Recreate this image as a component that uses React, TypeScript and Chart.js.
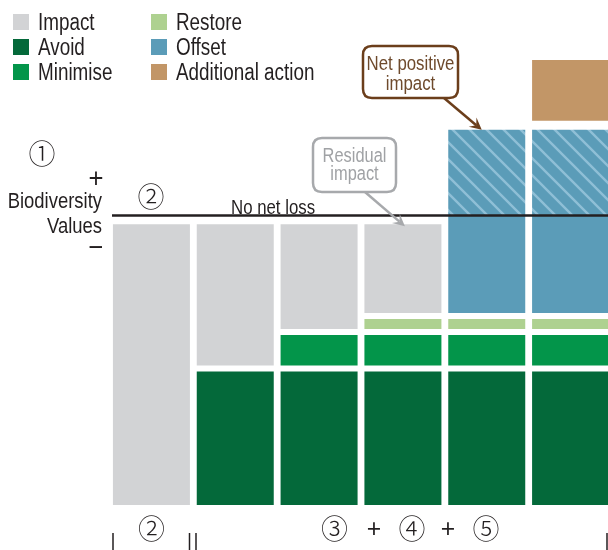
import React, { useEffect, useRef } from "react";
import { Chart, registerables } from "chart.js";

Chart.register(...registerables);

// ---------- data ----------
const categories = ["Impact", "Avoid", "Minimise", "Restore", "Offset", "Additional action"];
const avoidValues = [null, 47.7, 47.7, 47.7, 47.7, 47.7];
const minimiseValues = [null, null, 12.5, 12.5, 12.5, 12.5];
const restoreValues = [null, null, null, 5.4, 5.4, 5.4];
const impactValues = [98, 50.3, 37.8, 32.4, null, null];
const offsetValues = [null, null, null, null, 34.4, 34.4];
const netPositiveValues = [null, null, null, null, 30.3, 30.3];
const additionalValues = [null, null, null, null, null, 23.9];
const noNetLoss = 100;
const yMax = 160;

const legendLabels = ["Impact", "Avoid", "Minimise", "Restore", "Offset", "Additional action"];
const legendColors = ["#D2D3D5", "#04693A", "#03954A", "#AED190", "#5B9CB8", "#C29667"];

// ---------- styles ----------
const FONT = '"Liberation Sans", Arial, sans-serif';
const SYM = '"Noto Sans CJK JP", "DejaVu Sans", sans-serif';
const INK = "#231F20";
const NARROW = 0.82;

function txt(
  ctx: CanvasRenderingContext2D,
  s: string,
  x: number,
  y: number,
  size: number,
  align: CanvasTextAlign,
  color: string,
  baseline: CanvasTextBaseline = "alphabetic",
  sx: number = NARROW,
  weight: string = "normal"
) {
  ctx.save();
  ctx.font = `${weight} ${size}px ${FONT}`;
  ctx.fillStyle = color;
  ctx.textAlign = align;
  ctx.textBaseline = baseline;
  ctx.translate(x, y);
  ctx.scale(sx, 1);
  ctx.fillText(s, 0, 0);
  ctx.restore();
}

function sym(ctx: CanvasRenderingContext2D, s: string, x: number, y: number, size: number) {
  ctx.save();
  ctx.font = `300 ${size}px ${SYM}`;
  ctx.fillStyle = INK;
  ctx.textAlign = "center";
  ctx.textBaseline = "middle";
  ctx.fillText(s, x, y);
  ctx.restore();
}

function roundRect(ctx: CanvasRenderingContext2D, x: number, y: number, w: number, h: number, r: number) {
  ctx.beginPath();
  ctx.moveTo(x + r, y);
  ctx.lineTo(x + w - r, y);
  ctx.quadraticCurveTo(x + w, y, x + w, y + r);
  ctx.lineTo(x + w, y + h - r);
  ctx.quadraticCurveTo(x + w, y + h, x + w - r, y + h);
  ctx.lineTo(x + r, y + h);
  ctx.quadraticCurveTo(x, y + h, x, y + h - r);
  ctx.lineTo(x, y + r);
  ctx.quadraticCurveTo(x, y, x + r, y);
  ctx.closePath();
}

function arrow(ctx: CanvasRenderingContext2D, x1: number, y1: number, x2: number, y2: number, color: string) {
  const a = Math.atan2(y2 - y1, x2 - x1);
  const c = Math.cos(a), s = Math.sin(a);
  const L = 12, W = 6;
  ctx.strokeStyle = color;
  ctx.lineWidth = 2.5;
  ctx.beginPath();
  ctx.moveTo(x1, y1);
  ctx.lineTo(x2 - c * L * 0.6, y2 - s * L * 0.6);
  ctx.stroke();
  ctx.fillStyle = color;
  ctx.beginPath();
  ctx.moveTo(x2, y2);
  ctx.lineTo(x2 - c * L - s * W, y2 - s * L + c * W);
  ctx.lineTo(x2 - c * L * 0.6, y2 - s * L * 0.6);
  ctx.lineTo(x2 - c * L + s * W, y2 - s * L - c * W);
  ctx.closePath();
  ctx.fill();
}

function makeHatch(): CanvasPattern | string {
  const c = document.createElement("canvas");
  const s = 17;
  c.width = s;
  c.height = s;
  const g = c.getContext("2d");
  if (!g) return "#5B9CB8";
  g.fillStyle = "#5B9CB8";
  g.fillRect(0, 0, s, s);
  g.strokeStyle = "#8FBFD6";
  g.lineWidth = 2.4;
  g.beginPath();
  g.moveTo(-2, -2);
  g.lineTo(s + 2, s + 2);
  g.moveTo(-2, s - 2);
  g.lineTo(2, s + 2);
  g.moveTo(s - 2, -2);
  g.lineTo(s + 2, 2);
  g.stroke();
  return g.createPattern(c, "repeat") || "#5B9CB8";
}

const overlayPlugin = {
  id: "overlay",
  afterDatasetsDraw(chart: any) {
    const ctx: CanvasRenderingContext2D = chart.ctx;
    const xs = chart.scales.x;
    const ys = chart.scales.y;
    ctx.save();

    // No net loss line
    const ly = ys.getPixelForValue(noNetLoss);
    ctx.strokeStyle = INK;
    ctx.lineWidth = 2.5;
    ctx.beginPath();
    ctx.moveTo(112, ly);
    ctx.lineTo(chart.width, ly);
    ctx.stroke();
    txt(ctx, "No net loss", 231, ly - 2, 20.5, "left", INK);

    // Legend
    legendLabels.forEach((lab, i) => {
      const col = Math.floor(i / 3);
      const row = i % 3;
      const sx = col === 0 ? 13 : 151;
      const sy = 14 + row * 25;
      ctx.fillStyle = legendColors[i];
      ctx.fillRect(sx, sy, 16, 16);
      txt(ctx, lab, sx + 25, sy + 16, 23, "left", INK);
    });

    // Left labels
    txt(ctx, "Biodiversity", 102, 208, 22.5, "right", INK);
    txt(ctx, "Values", 102, 233, 22.5, "right", INK);
    txt(ctx, "+", 96, 180, 27, "center", INK, "middle", 0.95);
    txt(ctx, "\u2212", 96, 249, 27, "center", INK, "middle", 0.95);

    sym(ctx, "\u2460", 42, 154, 27);
    sym(ctx, "\u2461", 151, 197, 27);

    // Bottom labels
    const by = 529;
    sym(ctx, "\u2461", xs.getPixelForValue(0), by, 27);
    sym(ctx, "\u2462", 334.5, by, 27);
    sym(ctx, "\u2463", 412, by, 27);
    sym(ctx, "\u2464", 486, by, 27);
    txt(ctx, "+", 374, by + 1, 26, "center", INK, "middle", 0.95);
    txt(ctx, "+", 448, by + 1, 26, "center", INK, "middle", 0.95);

    // ticks
    ctx.strokeStyle = INK;
    ctx.lineWidth = 1.5;
    [113, 189.5, 196, 607].forEach((tx) => {
      ctx.beginPath();
      ctx.moveTo(tx, 533);
      ctx.lineTo(tx, 550);
      ctx.stroke();
    });

    // Residual impact callout
    const gray = "#A7A9AC";
    const rx = xs.getPixelForValue(3) + 2;
    const ry = ys.getPixelForValue(avoidValues[3]! + minimiseValues[3]! + restoreValues[3]! + impactValues[3]!) + 5;
    arrow(ctx, 365, 192, rx, ry, gray);
    ctx.fillStyle = "#fff";
    roundRect(ctx, 313, 138, 83, 54, 9);
    ctx.fill();
    ctx.strokeStyle = gray;
    ctx.lineWidth = 2.5;
    ctx.stroke();
    txt(ctx, "Residual", 354.5, 162, 20, "center", "#A0A2A5");
    txt(ctx, "impact", 354.5, 180, 20, "center", "#A0A2A5");

    // Net positive impact callout
    const brown = "#6B3E1B";
    const nx = xs.getPixelForValue(4) - 5;
    const ny = ys.getPixelForValue(avoidValues[4]! + minimiseValues[4]! + restoreValues[4]! + offsetValues[4]! + netPositiveValues[4]!) + 3;
    arrow(ctx, 444, 98, nx, ny, brown);
    ctx.fillStyle = "#fff";
    roundRect(ctx, 363, 46, 95, 52, 9);
    ctx.fill();
    ctx.strokeStyle = brown;
    ctx.lineWidth = 2.5;
    ctx.stroke();
    txt(ctx, "Net positive", 410.5, 70, 20.5, "center", "#6E4A2C");
    txt(ctx, "impact", 410.5, 90, 20.5, "center", "#6E4A2C");

    ctx.restore();
  },
};

export default function App() {
  const ref = useRef<HTMLCanvasElement>(null);

  useEffect(() => {
    if (!ref.current) return;
    const hatch = makeHatch();
    const bw = { top: 3, bottom: 3, left: 3, right: 3 };
    const base = {
      borderColor: "#ffffff",
      borderSkipped: false as const,
      barPercentage: 0.99,
      categoryPercentage: 1,
      stack: "s",
    };
    const chart = new Chart(ref.current, {
      type: "bar",
      data: {
        labels: categories,
        datasets: [
          { ...base, label: "Avoid", data: avoidValues, backgroundColor: legendColors[1], borderWidth: bw },
          { ...base, label: "Minimise", data: minimiseValues, backgroundColor: legendColors[2], borderWidth: bw },
          { ...base, label: "Restore", data: restoreValues, backgroundColor: legendColors[3], borderWidth: bw },
          { ...base, label: "Impact", data: impactValues, backgroundColor: legendColors[0], borderWidth: bw },
          { ...base, label: "Offset", data: offsetValues, backgroundColor: legendColors[4], borderWidth: { top: 0, bottom: 3, left: 3, right: 3 } },
          { ...base, label: "Offset (net positive)", data: netPositiveValues, backgroundColor: hatch as any, borderWidth: { top: 3, bottom: 0, left: 3, right: 3 } },
          { ...base, label: "Additional action", data: additionalValues, backgroundColor: legendColors[5], borderWidth: { top: 3, bottom: 6, left: 3, right: 3 } },
        ] as any,
      },
      options: {
        animation: false,
        responsive: false,
        devicePixelRatio: 1,
        layout: { padding: { left: 109.5, right: 7.5, top: 40, bottom: 42 } },
        plugins: { legend: { display: false }, tooltip: { enabled: false } },
        scales: {
          x: { display: false, stacked: true, offset: true, grid: { display: false } },
          y: { display: false, stacked: true, min: 0, max: yMax, grid: { display: false } },
        },
      },
      plugins: [overlayPlugin],
    });
    return () => chart.destroy();
  }, []);

  return (
    <div style={{ position: "absolute", left: 0, top: 0, width: 608, height: 550, overflow: "hidden", background: "#fff" }}>
      <canvas ref={ref} width={620} height={550} style={{ display: "block", width: 620, height: 550 }} />
    </div>
  );
}
